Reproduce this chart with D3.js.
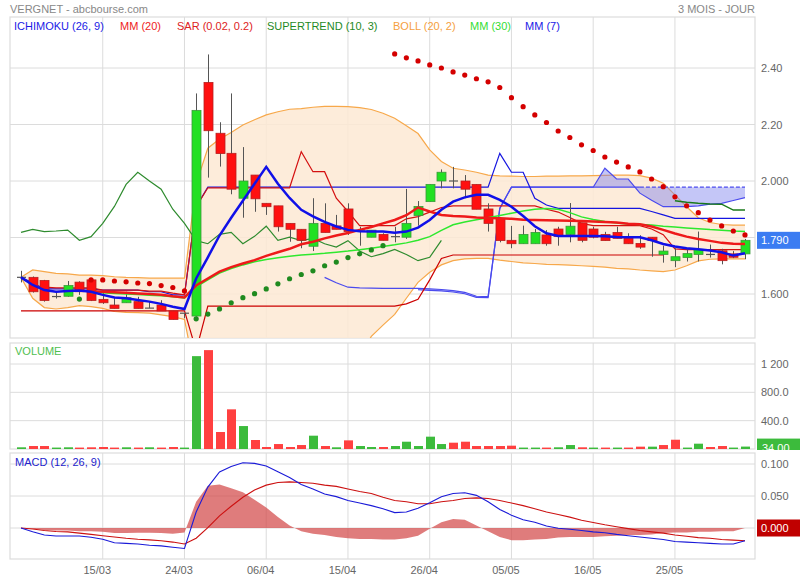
<!DOCTYPE html>
<html><head><meta charset="utf-8">
<script src="https://cdn.jsdelivr.net/npm/d3@7"></script>
<style>
body{margin:0;background:#fff;}
text{font-family:Arial,"Liberation Sans",sans-serif;}
</style>
</head><body>
<svg id="c" width="800" height="580"></svg>
<script>
// ---------- DATA ----------
const dates = ["04/03","07/03","08/03","09/03","10/03","11/03","14/03","15/03","16/03","17/03","18/03","21/03","22/03","23/03","24/03","29/03","30/03","31/03","01/04","04/04","05/04","06/04","07/04","08/04","11/04","12/04","13/04","14/04","15/04","18/04","19/04","20/04","21/04","22/04","25/04","26/04","27/04","28/04","29/04","02/05","03/05","04/05","05/05","06/05","09/05","10/05","11/05","12/05","13/05","16/05","17/05","18/05","19/05","20/05","23/05","24/05","25/05","26/05","27/05","30/05","31/05","01/06","02/06"];
const xTickLabels = ["15/03","24/03","06/04","15/04","26/04","05/05","16/05","25/05"];

const open  = [1.659,1.659,1.648,1.590,1.592,1.642,1.650,1.581,1.561,1.569,1.573,1.550,1.561,1.540,1.532,1.522,2.349,2.169,2.098,1.939,2.021,1.921,1.912,1.850,1.829,1.769,1.850,1.841,1.901,1.823,1.801,1.811,1.803,1.801,1.878,1.927,2.000,2.000,2.000,1.988,1.901,1.868,1.790,1.778,1.778,1.809,1.830,1.811,1.852,1.830,1.811,1.818,1.801,1.779,1.801,1.740,1.718,1.729,1.740,1.740,1.753,1.742,1.742];
const high  = [1.682,1.662,1.650,1.608,1.646,1.645,1.656,1.604,1.590,1.608,1.590,1.573,1.578,1.540,1.532,2.310,2.448,2.208,2.310,2.120,2.021,1.921,1.912,1.850,1.829,1.939,1.921,1.880,1.921,1.838,1.826,1.815,1.838,1.972,1.929,1.988,2.041,2.050,2.021,1.988,1.921,1.868,1.841,1.842,1.830,1.826,1.838,1.922,1.852,1.838,1.820,1.838,1.815,1.808,1.801,1.771,1.762,1.762,1.821,1.775,1.760,1.752,1.795];
const low   = [1.641,1.605,1.573,1.584,1.590,1.597,1.575,1.565,1.549,1.569,1.549,1.550,1.540,1.510,1.514,1.520,2.012,2.051,1.953,1.870,1.891,1.880,1.821,1.785,1.762,1.752,1.818,1.829,1.809,1.771,1.801,1.790,1.783,1.795,1.842,1.927,1.974,1.974,1.939,1.900,1.821,1.783,1.762,1.778,1.778,1.771,1.771,1.783,1.783,1.797,1.789,1.797,1.778,1.760,1.732,1.711,1.695,1.715,1.715,1.729,1.705,1.727,1.723];
const close = [1.659,1.608,1.577,1.592,1.630,1.608,1.577,1.569,1.549,1.587,1.549,1.550,1.540,1.510,1.532,2.250,2.178,2.097,1.971,2.000,1.937,1.909,1.838,1.829,1.790,1.850,1.818,1.829,1.821,1.823,1.826,1.790,1.803,1.850,1.910,1.988,2.031,2.000,1.971,1.900,1.850,1.789,1.778,1.811,1.818,1.778,1.804,1.840,1.790,1.801,1.789,1.797,1.778,1.766,1.789,1.752,1.732,1.743,1.758,1.740,1.718,1.730,1.790];
const volume = [24,42,42,20,24,20,24,28,20,24,20,24,20,28,20,1311,1396,240,560,324,127,28,70,28,56,188,42,24,122,42,28,28,42,103,42,174,70,89,103,42,42,42,47,20,20,20,24,56,24,20,20,20,20,33,33,56,131,20,75,28,42,20,34];

const mm7  = [1.659,1.632,1.614,1.608,1.611,1.612,1.608,1.597,1.588,1.585,1.579,1.573,1.565,1.555,1.547,1.655,1.730,1.807,1.870,1.930,1.990,2.050,1.990,1.940,1.898,1.875,1.855,1.839,1.827,1.822,1.821,1.821,1.817,1.821,1.835,1.862,1.898,1.927,1.942,1.951,1.951,1.933,1.909,1.876,1.840,1.815,1.805,1.805,1.805,1.805,1.804,1.802,1.801,1.801,1.790,1.777,1.768,1.762,1.758,1.754,1.748,1.736,1.744];
const mm20 = [null,null,null,null,null,null,1.610,1.608,1.606,1.604,1.602,1.600,1.597,1.592,1.588,1.630,1.655,1.679,1.695,1.708,1.720,1.735,1.748,1.760,1.776,1.785,1.797,1.807,1.816,1.827,1.837,1.850,1.862,1.879,1.906,1.892,1.880,1.876,1.874,1.871,1.869,1.868,1.866,1.863,1.862,1.861,1.860,1.859,1.858,1.857,1.855,1.853,1.849,1.847,1.839,1.827,1.814,1.803,1.795,1.788,1.781,1.778,1.777];
const mm30 = [null,null,null,null,null,null,1.605,1.604,1.602,1.600,1.598,1.596,1.594,1.590,1.586,1.625,1.650,1.674,1.690,1.703,1.714,1.722,1.728,1.734,1.738,1.741,1.744,1.748,1.752,1.757,1.762,1.768,1.774,1.781,1.790,1.803,1.825,1.845,1.855,1.863,1.870,1.878,1.886,1.894,1.900,1.903,1.900,1.888,1.873,1.864,1.857,1.851,1.848,1.846,1.844,1.840,1.837,1.834,1.831,1.828,1.826,1.823,1.821];
const bollUp = [1.659,1.685,1.679,1.673,1.671,1.667,1.667,1.665,1.661,1.659,1.658,1.656,1.656,1.656,1.656,1.990,2.116,2.149,2.172,2.198,2.217,2.234,2.245,2.254,2.256,2.261,2.264,2.264,2.263,2.260,2.253,2.240,2.222,2.196,2.168,2.110,2.069,2.045,2.039,2.031,2.021,2.018,2.017,2.016,2.016,2.017,2.017,2.018,2.018,2.019,2.020,2.021,2.021,2.019,2.010,1.992,1.951,1.909,1.870,1.853,1.846,1.844,1.844];
const bollLo = [1.659,1.585,1.552,1.547,1.552,1.559,1.555,1.549,1.538,1.535,1.534,1.532,1.526,1.520,1.510,1.300,1.150,1.100,1.080,1.070,1.070,1.080,1.090,1.100,1.120,1.160,1.200,1.250,1.310,1.380,1.450,1.490,1.528,1.585,1.641,1.677,1.703,1.718,1.724,1.726,1.726,1.720,1.715,1.710,1.708,1.705,1.704,1.702,1.700,1.698,1.695,1.691,1.689,1.685,1.682,1.679,1.685,1.700,1.717,1.723,1.724,1.724,1.724];
const sar = [null,null,null,null,null,1.582,1.650,1.650,1.646,1.643,1.639,1.637,1.630,1.623,1.611,1.512,1.529,1.547,1.569,1.587,1.601,1.618,1.636,1.654,1.669,1.682,1.700,1.713,1.729,1.742,1.756,1.771,2.450,2.436,2.425,2.411,2.400,2.386,2.375,2.362,2.351,2.331,2.295,2.263,2.234,2.207,2.177,2.154,2.128,2.108,2.085,2.067,2.050,2.032,2.007,1.980,1.944,1.912,1.888,1.862,1.841,1.823,1.809];
const supertrend = [null,null,null,null,null,null,null,null,null,null,null,null,null,null,null,null,null,null,null,null,null,null,null,null,null,null,null,null,null,null,null,null,null,null,null,null,null,null,null,null,null,null,null,null,null,null,null,null,null,null,null,null,null,null,null,null,1.930,1.925,1.921,1.919,1.918,1.897,1.897];
const chikou = [1.818,1.829,1.821,1.823,1.826,1.790,1.803,1.850,1.910,1.988,2.031,2.000,1.971,1.900,1.850,1.789,1.778,1.811,1.818,1.778,1.804,1.840,1.790,1.801,1.789,1.797,1.778,1.766,1.789,1.752,1.732,1.743,1.758,1.740,1.718,1.730,1.790];
const kijun = [1.659,1.640,1.618,1.618,1.618,1.618,1.618,1.614,1.614,1.614,1.614,1.608,1.608,1.597,1.597,1.909,1.978,1.978,1.978,1.978,1.978,1.978,1.978,1.978,1.978,1.978,1.978,1.978,1.978,1.978,1.978,1.978,1.978,1.978,1.978,1.978,1.978,1.978,1.978,1.978,1.978,2.098,2.031,2.031,1.939,1.915,1.903,1.903,1.903,1.903,1.903,1.903,1.903,1.903,1.892,1.880,1.868,1.868,1.868,1.868,1.868,1.868,1.868];
const spanA = [null,null,null,null,null,null,null,null,null,null,null,null,null,null,null,null,null,null,null,null,null,null,null,null,null,null,1.659,1.640,1.624,1.622,1.621,1.620,1.620,1.620,1.620,1.618,1.616,1.612,1.606,1.592,1.591,1.903,1.978,1.978,1.978,1.978,1.978,1.978,1.978,1.978,2.045,2.007,2.007,1.957,1.932,1.909,1.909,1.909,1.912,1.918,1.921,1.931,1.941];
const spanB = [null,null,null,null,null,null,null,null,null,null,null,null,null,null,null,null,null,null,null,null,null,null,null,null,null,null,null,null,null,null,null,null,null,null,1.615,1.613,1.611,1.607,1.601,1.588,1.587,1.903,1.978,1.978,1.978,1.978,1.978,1.978,1.978,1.978,1.978,1.978,1.978,1.978,1.978,1.978,1.978,1.978,1.978,1.978,1.978,1.978,1.978];
const tenkan = [null,null,1.624,1.622,1.622,1.622,1.622,1.614,1.614,1.614,1.614,1.610,1.610,1.603,1.597,1.909,1.976,1.976,1.976,1.976,1.976,1.976,1.976,1.976,2.104,2.033,2.033,1.939,1.892,1.842,1.842,1.842,1.842,1.866,1.874,1.890,1.906,1.912,1.912,1.912,1.912,1.912,1.912,1.912,1.912,1.900,1.890,1.871,1.850,1.842,1.842,1.842,1.842,1.842,1.830,1.810,1.760,1.757,1.757,1.757,1.757,1.757,1.757];
const lowerLine = [1.540,1.540,1.540,1.540,1.540,1.540,1.540,1.540,1.540,1.540,1.540,1.540,1.540,1.540,1.540,1.400,1.557,1.557,1.557,1.557,1.557,1.557,1.557,1.557,1.557,1.557,1.557,1.557,1.557,1.557,1.557,1.557,1.557,1.565,1.581,1.650,1.726,1.738,1.738,1.738,1.738,1.738,1.738,1.738,1.738,1.738,1.738,1.738,1.738,1.738,1.738,1.738,1.738,1.738,1.738,1.738,null,null,null,null,null,null,null];

const macd   = [0,-0.006,-0.011,-0.0125,-0.0125,-0.0125,-0.0145,-0.0175,-0.023,-0.024,-0.025,-0.027,-0.028,-0.030,-0.032,0.025,0.064,0.0875,0.096,0.102,0.101,0.097,0.088,0.079,0.068,0.061,0.053,0.049,0.043,0.039,0.035,0.030,0.024,0.025,0.031,0.0395,0.049,0.054,0.055,0.051,0.041,0.029,0.020,0.013,0.009,0.003,-0.0005,-0.002,-0.004,-0.006,-0.0075,-0.010,-0.012,-0.014,-0.016,-0.018,-0.021,-0.022,-0.023,-0.024,-0.025,-0.025,-0.020];
const signal = [0,-0.0015,-0.004,-0.0055,-0.006,-0.008,-0.010,-0.012,-0.014,-0.016,-0.0175,-0.0185,-0.020,-0.022,-0.025,-0.016,0.0005,0.019,0.034,0.048,0.0595,0.067,0.071,0.072,0.071,0.070,0.067,0.065,0.061,0.057,0.054,0.048,0.043,0.041,0.038,0.038,0.041,0.043,0.046,0.047,0.046,0.043,0.039,0.035,0.030,0.025,0.021,0.017,0.012,0.0085,0.005,0.002,-0.001,-0.004,-0.006,-0.008,-0.011,-0.013,-0.015,-0.016,-0.018,-0.019,-0.020];
const hist   = [0,-0.001,-0.003,-0.004,-0.004,-0.005,-0.005,-0.006,-0.008,-0.008,-0.0075,-0.0075,-0.008,-0.009,-0.007,0.041,0.066,0.068,0.062,0.056,0.044,0.032,0.017,0.004,-0.005,-0.009,-0.011,-0.014,-0.016,-0.017,-0.017,-0.018,-0.018,-0.016,-0.012,-0.001,0.009,0.014,0.013,0.004,-0.005,-0.014,-0.019,-0.019,-0.018,-0.017,-0.015,-0.014,-0.014,-0.014,-0.013,-0.012,-0.011,-0.011,-0.010,-0.008,-0.007,-0.007,-0.006,-0.006,-0.005,-0.005,0.000];

const priceTicks = [1.6,1.8,2.0,2.2,2.4];
const priceTickLabels = ["1.600","1.800","2.000","2.20","2.40"];
const volTicks = [400,800,1200];
const volTickLabels = ["400.0","800.0","1 200"];
const macdTicks = [0,0.05,0.1];
const macdTickLabels = ["0.000","0.050","0.100"];
const legendLabels = ["ICHIMOKU (26, 9)","MM (20)","SAR (0.02, 0.2)","SUPERTREND (10, 3)","BOLL (20, 2)","MM (30)","MM (7)"];
const legendColors = ["#1a1ae6","#ee1c1c","#dd2222","#1f8a1f","#f5a040","#33dd33","#1a1ae6"];

// ---------- LAYOUT ----------
const svg = d3.select("#c");
const FONT = "Arial,'Liberation Sans',sans-serif";
const L = 10, R = 755;
const P = {top:17, bottom:338};
const V = {top:343, bottom:449};
const M = {top:453, bottom:559};
const idx = d3.range(dates.length);
const x = d3.scalePoint().domain(dates).range([21, 745]);
const X = i => x(dates[i]);
const yP = d3.scaleLinear().domain([1.6, 2.4]).range([294, 68]);
const yV = d3.scaleLinear().domain([0, 1200]).range([449, 364]);
const yM = d3.scaleLinear().domain([0, 0.1]).range([528, 464]);
const grid = "#dcdcdc";
const labelColor = "#666";

const defs = svg.append("defs");
[["cp",P],["cv",V],["cm",M]].forEach(([id,p])=>{
  defs.append("clipPath").attr("id",id).append("rect")
    .attr("x",L).attr("y",p.top).attr("width",R-L).attr("height",p.bottom-p.top);
});

// title
svg.append("text").attr("x",10).attr("y",13).attr("font-size",11).attr("fill","#888").text("VERGNET - abcbourse.com");
svg.append("text").attr("x",755).attr("y",13).attr("font-size",11).attr("fill","#888").attr("text-anchor","end").text("3 MOIS - JOUR");

// panels: borders & grids
const tickIdx = xTickLabels.map(t=>dates.indexOf(t));
function panelGrid(p, yScale, ticks){
  const g = svg.append("g");
  g.selectAll(".h").data(ticks).join("line")
    .attr("x1",L).attr("x2",R).attr("y1",d=>yScale(d)).attr("y2",d=>yScale(d))
    .attr("stroke",grid).attr("stroke-width",1);
  g.selectAll(".v").data(tickIdx).join("line")
    .attr("x1",d=>X(d)).attr("x2",d=>X(d)).attr("y1",p.top).attr("y2",p.bottom)
    .attr("stroke",grid).attr("stroke-width",1);
  g.append("rect").attr("x",L).attr("y",p.top).attr("width",R-L).attr("height",p.bottom-p.top)
    .attr("fill","none").attr("stroke",grid).attr("stroke-width",1.2);
}
panelGrid(P, yP, priceTicks);
panelGrid(V, yV, volTicks);
panelGrid(M, yM, macdTicks);

// legend (inside price panel top)
const legendX = [14,120,177,267,393,470,525];
legendLabels.forEach((t,k)=>{
  svg.append("text").attr("x",legendX[k]).attr("y",30).attr("font-size",11).attr("fill",legendColors[k]).text(t);
});

// ---------- PRICE PANEL ----------
const gp = svg.append("g").attr("clip-path","url(#cp)");
const lineP = arr => d3.line().defined(i=>arr[i]!=null).x(i=>X(i)).y(i=>yP(arr[i]))(idx.filter(i=>i<arr.length));

// Bollinger
gp.append("path").attr("d", d3.area().x(i=>X(i)).y0(i=>yP(bollLo[i])).y1(i=>yP(bollUp[i]))(idx))
  .attr("fill","#fde9d3").attr("fill-opacity",0.85);
[bollUp,bollLo].forEach(a=>gp.append("path").attr("d",lineP(a)).attr("fill","none").attr("stroke","#f7a84a").attr("stroke-width",1.2));

// Ichimoku cloud
const cloudIdx = idx.filter(i=>spanA[i]!=null && spanB[i]!=null);
gp.append("path").attr("d", d3.area().x(i=>X(i)).y0(i=>yP(spanA[i])).y1(i=>yP(spanB[i]))(cloudIdx))
  .attr("fill","#7d80ee").attr("fill-opacity",0.45);
gp.append("path").attr("d",lineP(spanA)).attr("fill","none").attr("stroke","#4a4aee").attr("stroke-width",1.2);
const spanBsolid = spanB.map((v,i)=>i<=53?v:null);
const spanBdash = spanB.map((v,i)=>i>=53?v:null);
gp.append("path").attr("d",lineP(spanBsolid)).attr("fill","none").attr("stroke","#4a4aee").attr("stroke-width",1.2);
gp.append("path").attr("d",lineP(spanBdash)).attr("fill","none").attr("stroke","#4a4aee").attr("stroke-width",1.2).attr("stroke-dasharray","4,2");

// thin lines
gp.append("path").attr("d",lineP(lowerLine)).attr("fill","none").attr("stroke","#cc0000").attr("stroke-width",1.2);
gp.append("path").attr("d",lineP(kijun)).attr("fill","none").attr("stroke","#1515e0").attr("stroke-width",1.2);
gp.append("path").attr("d",lineP(tenkan)).attr("fill","none").attr("stroke","#d41010").attr("stroke-width",1.2);
gp.append("path").attr("d",lineP(chikou)).attr("fill","none").attr("stroke","#2e8b2e").attr("stroke-width",1.2);
gp.append("path").attr("d",lineP(supertrend)).attr("fill","none").attr("stroke","#1a7a1a").attr("stroke-width",1.5);

// candles
const bw = 9;
const cg = gp.append("g");
idx.forEach(i=>{
  const xc = Math.round(X(i))+0.5;
  cg.append("line").attr("x1",xc).attr("x2",xc).attr("y1",yP(high[i])).attr("y2",yP(low[i])).attr("stroke","#555").attr("stroke-width",1);
  const top = yP(Math.max(open[i],close[i])), bot = yP(Math.min(open[i],close[i]));
  if (bot-top < 1.5){
    cg.append("line").attr("x1",xc-bw/2).attr("x2",xc+bw/2).attr("y1",(top+bot)/2).attr("y2",(top+bot)/2).attr("stroke","#555").attr("stroke-width",1.2);
  } else {
    const up = close[i]>=open[i];
    cg.append("rect").attr("x",xc-bw/2).attr("y",top).attr("width",bw).attr("height",bot-top)
      .attr("fill",up?"#22e022":"#ff1010").attr("stroke",up?"#3a9a3a":"#b82020").attr("stroke-width",0.8);
  }
});

// moving averages
gp.append("path").attr("d",lineP(mm30)).attr("fill","none").attr("stroke","#2ee82e").attr("stroke-width",1.5);
gp.append("path").attr("d",lineP(mm20)).attr("fill","none").attr("stroke","#ee1a1a").attr("stroke-width",2.5);
gp.append("path").attr("d",lineP(mm7)).attr("fill","none").attr("stroke","#1010e8").attr("stroke-width",2.5);

// SAR
gp.selectAll(".sar").data(idx.filter(i=>sar[i]!=null)).join("circle")
  .attr("cx",i=>X(i)).attr("cy",i=>yP(sar[i])).attr("r",2.6)
  .attr("fill",i=>sar[i]>close[i]?"#d40000":"#1f8a1f");

function styleAxis(ax){
  ax.select(".domain").remove();
  ax.selectAll("text").attr("font-size",11).attr("fill",labelColor).attr("font-family",FONT);
}
// price axis
const axP = svg.append("g").attr("transform",`translate(${R},0)`)
  .call(d3.axisRight(yP).tickValues(priceTicks).tickSize(0).tickPadding(6).tickFormat((d,k)=>priceTickLabels[k]));
styleAxis(axP);

// last price label
const last = close[close.length-1];
svg.append("rect").attr("x",757).attr("y",yP(last)-8.5).attr("width",43).attr("height",17).attr("fill","#3b7cf2");
svg.append("text").attr("x",761).attr("y",yP(last)+4).attr("font-size",11).attr("fill","#fff").text(last.toFixed(3));

// ---------- VOLUME ----------
const gv = svg.append("g").attr("clip-path","url(#cv)");
gv.selectAll("rect").data(idx).join("rect")
  .attr("x",i=>Math.round(X(i))-4).attr("width",9)
  .attr("y",i=>yV(volume[i])).attr("height",i=>yV(0)-yV(volume[i]))
  .attr("fill",i=>(i===0||close[i]>=close[i-1])?"#3cbb3c":"#ff4040");
svg.append("text").attr("x",15).attr("y",355).attr("font-size",11).attr("fill","#4fc04f").text("VOLUME");
const axV = svg.append("g").attr("transform",`translate(${R},0)`)
  .call(d3.axisRight(yV).tickValues(volTicks).tickSize(0).tickPadding(6).tickFormat((d,k)=>volTickLabels[k]));
styleAxis(axV);
const lastV = volume[volume.length-1];
defs.append("clipPath").attr("id","cvl").append("rect").attr("x",755).attr("y",V.top).attr("width",45).attr("height",V.bottom-V.top+1);
const gvl = svg.append("g").attr("clip-path","url(#cvl)");
gvl.append("rect").attr("x",757).attr("y",yV(lastV)-8).attr("width",43).attr("height",17).attr("fill","#3cbb3c");
gvl.append("text").attr("x",762).attr("y",yV(lastV)+5).attr("font-size",11).attr("fill","#fff").text(lastV.toFixed(2));

// ---------- MACD ----------
const gm = svg.append("g").attr("clip-path","url(#cm)");
gm.append("path").attr("d", d3.area().x(i=>X(i)).y0(yM(0)).y1(i=>yM(hist[i]))(idx))
  .attr("fill","#d24a4a").attr("fill-opacity",0.72);
const lineM = arr => d3.line().x(i=>X(i)).y(i=>yM(arr[i]))(idx);
gm.append("path").attr("d",lineM(signal)).attr("fill","none").attr("stroke","#cc1111").attr("stroke-width",1.1);
gm.append("path").attr("d",lineM(macd)).attr("fill","none").attr("stroke","#1a1ad8").attr("stroke-width",1.1);
svg.append("text").attr("x",15).attr("y",466).attr("font-size",11).attr("fill","#2222cc").text("MACD (12, 26, 9)");
const axM = svg.append("g").attr("transform",`translate(${R},0)`)
  .call(d3.axisRight(yM).tickValues(macdTicks).tickSize(0).tickPadding(6).tickFormat((d,k)=>macdTickLabels[k]));
styleAxis(axM);
svg.append("rect").attr("x",757).attr("y",yM(0)-8.5).attr("width",43).attr("height",17).attr("fill","#c00000");
svg.append("text").attr("x",761).attr("y",yM(0)+4).attr("font-size",11).attr("fill","#fff").text(macdTickLabels[0]);

// x axis
const axX = svg.append("g").attr("transform",`translate(0,${M.bottom})`)
  .call(d3.axisBottom(x).tickValues(xTickLabels).tickSize(0).tickPadding(7));
styleAxis(axX);
axX.selectAll("text").attr("dx",-6);
</script>
</body></html>
